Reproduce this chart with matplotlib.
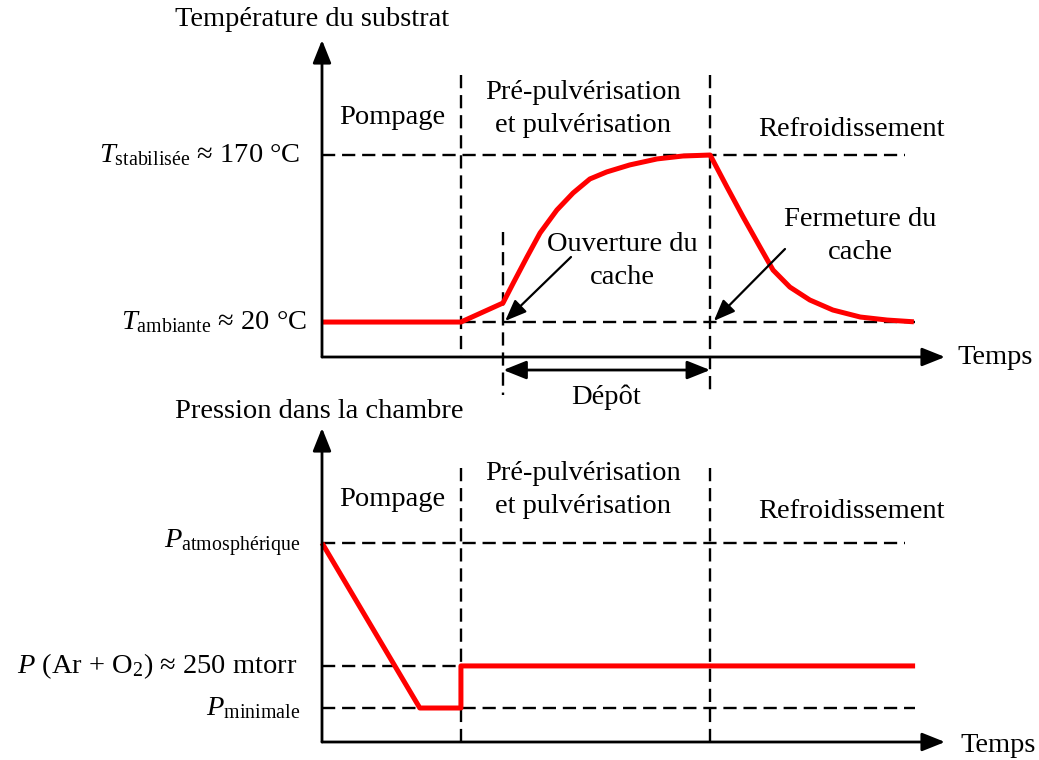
import matplotlib
matplotlib.use("Agg")
import matplotlib.pyplot as plt
import matplotlib.transforms as mtransforms

plt.rcParams['font.family'] = ['Liberation Serif', 'DejaVu Serif']
plt.rcParams['mathtext.fontset'] = 'custom'
plt.rcParams['mathtext.rm'] = 'Liberation Serif'
plt.rcParams['mathtext.it'] = 'Liberation Serif:italic'

W, H = 1039, 760
FS = 20.5

# --- data (arbitrary time units 0..100, temperatures in degC, pressure in arb. units)
t_pump_end = 22.3      # end of pumping
t_open = 29.1          # shutter opening
t_close = 62.3         # shutter closing
t_end = 95.2

temp_t = [0, 22.3, 29.05, 30.7, 32.9, 35.0, 37.7, 40.3, 43.0, 45.7, 49.4, 53.8, 57.9, 62.3,
          65.0, 67.6, 70.3, 72.4, 75.1, 78.3, 82.0, 86.4, 90.7, 95.0]
temp_T = [20, 20, 37.1, 55.0, 78.4, 100.0, 120.6, 135.9, 148.5, 154.8, 161.1, 166.5, 169.1, 170,
          141.3, 114.3, 87.4, 66.7, 51.4, 39.8, 30.8, 24.5, 21.8, 20.2]
T_amb, T_stab = 20, 170

pres_t = [0, 15.7, 22.3, 22.3, 95.2]
pres_P = [100, 0, 0, 25.5, 25.5]
P_atm, P_gas, P_min = 100, 25.5, 0

dash = dict(color='k', lw=1.7, dashes=(5.6, 2.9), clip_on=False)
red = dict(color='#ff0000', lw=3.6, solid_capstyle='butt', solid_joinstyle='round', clip_on=False)


def px(x, y):
    return x / W, 1 - y / H


def label(x, y, s, **kw):
    kw.setdefault('ha', 'center')
    kw.setdefault('va', 'center')
    fig.text(*px(x, y), s, fontsize=FS, linespacing=1.45, **kw)


def axis_arrows(ax):
    for tip in [(0, 1), (1, 0)]:
        ax.annotate('', xy=tip, xycoords='axes fraction', xytext=(0, 0),
                    arrowprops=dict(arrowstyle='-|>,head_length=1.0,head_width=0.4',
                                    lw=2, color='k', shrinkA=0, shrinkB=0,
                                    mutation_scale=14))


fig = plt.figure(figsize=(W / 100, H / 100), dpi=100)

# ---------------- top panel: temperature
ax1 = fig.add_axes([322 / W, 1 - 357 / H, 623 / W, 317 / H])
ax1.set_xlim(0, 100)
ax1.set_ylim(-11.4, 273.3)
ax1.axis('off')

ax1.plot([0, 93.6], [T_stab, T_stab], **dash)
ax1.plot([0, t_end], [T_amb, T_amb], **dash)
ax1.plot([t_pump_end, t_pump_end], [241.9, -11.4], **dash)
ax1.plot([t_open, t_open], [100.9, -45.6], **dash)
ax1.plot([t_close, t_close], [241.9, -45.6], **dash)
ax1.plot(temp_t, temp_T, **red)
axis_arrows(ax1)

# Depot double arrow
ax1.annotate('', xy=(t_close, -23.1), xytext=(t_open, -23.1), annotation_clip=False,
             arrowprops=dict(arrowstyle='<|-|>,head_length=1.0,head_width=0.4',
                             lw=2, color='k', shrinkA=0, shrinkB=0, mutation_scale=14))
# pointer arrows
ax1.annotate('', xy=(t_open + 0.3, T_amb + 1), xytext=px(571, 257), textcoords='figure fraction',
             arrowprops=dict(arrowstyle='-|>,head_length=1.0,head_width=0.4',
                             lw=1.6, color='k', shrinkA=0, shrinkB=0, mutation_scale=13))
ax1.annotate('', xy=(t_close + 0.6, T_amb + 1), xytext=px(785, 249), textcoords='figure fraction',
             arrowprops=dict(arrowstyle='-|>,head_length=1.0,head_width=0.4',
                             lw=1.6, color='k', shrinkA=0, shrinkB=0, mutation_scale=13))

tr1 = mtransforms.blended_transform_factory(ax1.transAxes, ax1.transData)
ax1.text(-0.035, T_stab, r'$T_{\mathrm{stabilisée}}$ ≈ 170 °C', transform=tr1,
         ha='right', va='center', fontsize=FS)
ax1.text(-0.024, T_amb, r'$T_{\mathrm{ambiante}}$ ≈ 20 °C', transform=tr1,
         ha='right', va='center', fontsize=FS)

label(175, 20, 'Température du substrat', ha='left')
label(957, 358, 'Temps', ha='left')
label(392, 118, 'Pompage')
label(583, 109, 'Pré-pulvérisation\net pulvérisation')
label(851, 130, 'Refroidissement')
label(622, 261, 'Ouverture du\ncache')
label(860, 236, 'Fermeture du\ncache')
label(606, 397, 'Dépôt')

# ---------------- bottom panel: pressure
ax2 = fig.add_axes([322 / W, 1 - 742 / H, 623 / W, 314 / H])
ax2.set_xlim(0, 100)
ax2.set_ylim(-20.6, 169.7)
ax2.axis('off')

ax2.plot([0, 93.6], [P_atm, P_atm], **dash)
ax2.plot([0, t_end], [P_gas, P_gas], **dash)
ax2.plot([0, t_end], [P_min, P_min], **dash)
ax2.plot([t_pump_end, t_pump_end], [145.5, -20.6], **dash)
ax2.plot([t_close, t_close], [145.5, -20.6], **dash)
ax2.plot(pres_t, pres_P, **red)
axis_arrows(ax2)

tr2 = mtransforms.blended_transform_factory(ax2.transAxes, ax2.transData)
ax2.text(-0.035, P_atm, r'$P_{\mathrm{atmosphérique}}$', transform=tr2,
         ha='right', va='center', fontsize=FS)
ax2.text(-0.04, P_gas, r'$P$ (Ar + O$_2$) ≈ 250 mtorr', transform=tr2,
         ha='right', va='center', fontsize=FS)
ax2.text(-0.035, P_min, r'$P_{\mathrm{minimale}}$', transform=tr2,
         ha='right', va='center', fontsize=FS)

label(175, 412, 'Pression dans la chambre', ha='left')
label(960, 745, 'Temps', ha='left')
label(392, 500, 'Pompage')
label(583, 490, 'Pré-pulvérisation\net pulvérisation')
label(851, 512, 'Refroidissement')

fig.savefig('out.png', dpi=100)
